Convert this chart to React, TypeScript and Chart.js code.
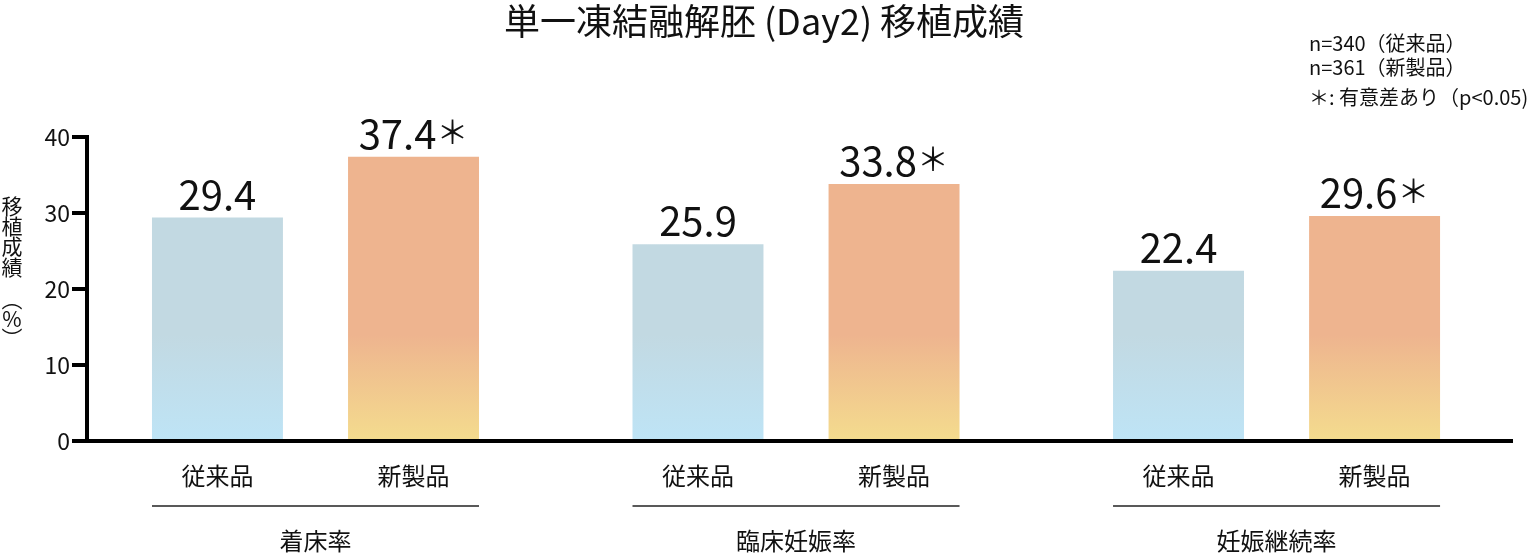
import React, { useEffect, useRef } from "react";
import { Chart, registerables } from "chart.js";

Chart.register(...registerables);

const title = "単一凍結融解胚 (Day2) 移植成績";
const categories = ["着床率", "臨床妊娠率", "妊娠継続率"];
const seriesNames = ["従来品", "新製品"];
const conventional = [29.4, 25.9, 22.4];
const newProduct = [37.4, 33.8, 29.6];
const significant = [false, true];
const yTickValues = [0, 10, 20, 30, 40];
const yTitleChars = ["移", "植", "成", "績", "︵", "%", "︶"];
const notes = ["n=340（従来品）", "n=361（新製品）", "＊: 有意差あり（p<0.05)"];

const FONT = '"Noto Sans CJK JP", "Noto Sans", sans-serif';

function makeGradient(chart: any, top: string, bottom: string) {
  const area = chart.chartArea;
  if (!area) return top;
  const ys = chart.scales.y;
  const g = chart.ctx.createLinearGradient(0, ys.getPixelForValue(14), 0, ys.getPixelForValue(0));
  g.addColorStop(0, top);
  g.addColorStop(1, bottom);
  return g;
}

const decorPlugin = {
  id: "decor",
  afterDraw(chart: any) {
    const ctx = chart.ctx;
    const area = chart.chartArea;
    ctx.save();
    ctx.fillStyle = "#111";
    // title
    ctx.font = `36px ${FONT}`;
    ctx.textAlign = "center";
    ctx.textBaseline = "middle";
    ctx.fillText(title, 764, 21);
    // notes
    ctx.font = `20px ${FONT}`;
    ctx.textAlign = "left";
    const noteY = [43, 67, 97];
    notes.forEach((t, i) => ctx.fillText(t, 1309, noteY[i]));
    // vertical y title
    ctx.font = `21px ${FONT}`;
    ctx.textAlign = "center";
    const ty = [206, 226, 246, 267, 299, 319, 338];
    yTitleChars.forEach((c, i) => ctx.fillText(c, 12, ty[i]));

    const metas = [chart.getDatasetMeta(0), chart.getDatasetMeta(1)];
    metas.forEach((meta: any, d: number) => {
      const data = chart.data.datasets[d].data;
      meta.data.forEach((bar: any, i: number) => {
        const v = data[i].y;
        const num = v.toFixed(1);
        ctx.textBaseline = "alphabetic";
        ctx.font = `40px ${FONT}`;
        const nw = ctx.measureText(num).width;
        let aw = 0;
        if (significant[d]) {
          ctx.font = `32px ${FONT}`;
          aw = ctx.measureText("＊").width;
        }
        const startX = bar.x - (nw + aw) / 2;
        ctx.textAlign = "left";
        ctx.font = `40px ${FONT}`;
        ctx.fillText(num, startX, bar.y - 8);
        if (significant[d]) {
          ctx.font = `32px ${FONT}`;
          ctx.fillText("＊", startX + nw, bar.y - 13);
        }
        ctx.font = `24px ${FONT}`;
        ctx.textAlign = "center";
        ctx.textBaseline = "middle";
        ctx.fillText(seriesNames[d], bar.x, area.bottom + 35);
      });
    });
    categories.forEach((cat, i) => {
      const b0 = metas[0].data[i];
      const b1 = metas[1].data[i];
      const left = b0.x - b0.width / 2;
      const right = b1.x + b1.width / 2;
      ctx.strokeStyle = "#222";
      ctx.lineWidth = 1.5;
      ctx.beginPath();
      ctx.moveTo(left, area.bottom + 65);
      ctx.lineTo(right, area.bottom + 65);
      ctx.stroke();
      ctx.font = `24px ${FONT}`;
      ctx.textAlign = "center";
      ctx.textBaseline = "middle";
      ctx.fillText(cat, (left + right) / 2, area.bottom + 100);
    });
    ctx.restore();
  },
};

export default function App() {
  const ref = useRef<HTMLCanvasElement>(null);
  useEffect(() => {
    if (!ref.current) return;
    const chart = new Chart(ref.current, {
      type: "bar",
      data: {
        datasets: [
          {
            label: seriesNames[0],
            data: conventional.map((v, i) => ({ x: i, y: v })),
            backgroundColor: (c: any) => makeGradient(c.chart, "#C2D9E2", "#BEE4F6"),
            categoryPercentage: 0.816,
            barPercentage: 0.668,
          },
          {
            label: seriesNames[1],
            data: newProduct.map((v, i) => ({ x: i, y: v })),
            backgroundColor: (c: any) => makeGradient(c.chart, "#EEB48F", "#F4DC8E"),
            categoryPercentage: 0.816,
            barPercentage: 0.668,
          },
        ],
      },
      options: {
        animation: false,
        responsive: true,
        maintainAspectRatio: false,
        layout: { padding: { top: 137, bottom: 117, left: 0, right: 18 } },
        plugins: { legend: { display: false }, tooltip: { enabled: false }, title: { display: false } },
        scales: {
          x: {
            type: "linear",
            offset: false,
            min: -0.4755,
            max: 2.49,
            ticks: { display: false },
            grid: { display: false, offset: false },
            border: { display: true, color: "#000", width: 4 },
            afterBuildTicks: (s: any) => {
              s.ticks = categories.map((_, i) => ({ value: i }));
            },
            afterFit: (s: any) => {
              s.height = 0;
            },
          },
          y: {
            min: 0,
            max: 40,
            afterBuildTicks: (s: any) => {
              s.ticks = yTickValues.map((v) => ({ value: v }));
            },
            ticks: { color: "#111", font: { size: 23, family: FONT }, padding: 2 },
            grid: { drawOnChartArea: false, drawTicks: true, tickLength: 15, color: "#000", lineWidth: 4 },
            border: { display: true, color: "#000", width: 4 },
            afterFit: (s: any) => {
              s.width = 87;
            },
          },
        },
      },
      plugins: [decorPlugin],
    } as any);
    return () => chart.destroy();
  }, []);
  return (
    <div style={{ position: "fixed", left: 0, top: 0, width: 1530, height: 558, background: "#fff" }}>
      <canvas ref={ref} />
    </div>
  );
}
